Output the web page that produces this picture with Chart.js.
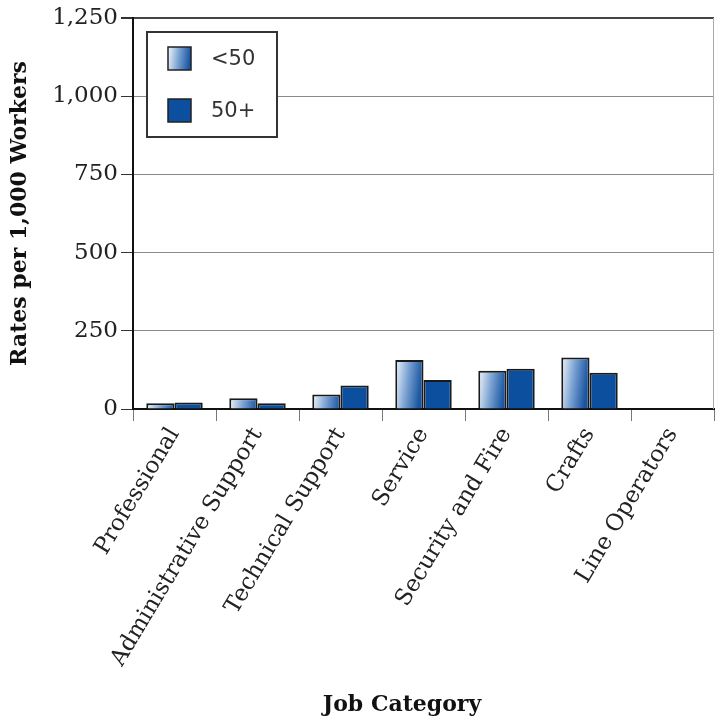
<!DOCTYPE html>
<html>
<head>
<meta charset="utf-8">
<script src="https://cdn.jsdelivr.net/npm/chart.js@4/dist/chart.umd.min.js"></script>
<style>
  body { margin: 0; background: #fff; }
  #wrap { width: 715px; height: 719px; }
</style>
</head>
<body>
<div id="wrap"><canvas id="rateChart" width="715" height="719"></canvas></div>
<script>
// ================= DATA =================
const categories = [
    "Professional",
    "Administrative Support",
    "Technical Support",
    "Service",
    "Security and Fire",
    "Crafts",
    "Line Operators"
];
const seriesNames = ["<50", "50+"];
const under50 = [18, 34, 46, 157, 122, 165, 0];
const over50 = [21, 18, 75, 93, 129, 116, 0];
const yTicks = [0, 250, 500, 750, 1000, 1250];
const xTitle = "Job Category";

const CAT_PCT = 0.68;
const SOLID_BLUE = "#0b4f9e";

// ================= GRADIENT =================
function makeGradient(c, left, top, width) {
    // mostly horizontal, slightly tilted: light top-left, dark right
    const g = c.createLinearGradient(left, top, left + width, top + width * 0.12);
    g.addColorStop(0, "#f3f7fc");
    g.addColorStop(0.5, "#7ca3d3");
    g.addColorStop(1, "#1a56a2");
    return g;
}

function under50Fill(context) {
    const chart = context.chart;
    if (context.type !== "data" || !chart.chartArea) return "#7ca3d3";
    const x = chart.scales.x;
    const y = chart.scales.y;
    const barW = x.width / categories.length * CAT_PCT / 2;
    const cx = x.getPixelForValue(context.dataIndex);
    const top = y.getPixelForValue(context.raw);
    return makeGradient(chart.ctx, cx - barW, top, barW);
}

// ================= PLUGINS =================
const framePlugin = {
    id: "frame",
    beforeDatasetsDraw(chart) {
        const { ctx, chartArea } = chart;
        ctx.save();
        ctx.strokeStyle = "#aaaaaa";
        ctx.lineWidth = 1;
        ctx.beginPath();
        ctx.moveTo(chartArea.right - 0.5, chartArea.top);
        ctx.lineTo(chartArea.right - 0.5, chartArea.bottom);
        ctx.stroke();
        ctx.restore();
    },
    afterDraw(chart) {
        // x axis title, sits a bit left of the plot centre like the original
        const { ctx } = chart;
        ctx.save();
        ctx.fillStyle = "#111111";
        ctx.font = "bold 22px 'DejaVu Serif'";
        ctx.textAlign = "center";
        ctx.textBaseline = "middle";
        ctx.fillText(xTitle, 402, 705);
        ctx.restore();
    }
};

const boxLegend = {
    id: "boxLegend",
    afterDraw(chart) {
        const { ctx, chartArea } = chart;
        const bx = chartArea.left + 14;
        const by = chartArea.top + 14;
        const bw = 130;
        const bh = 105;
        ctx.save();
        ctx.fillStyle = "#ffffff";
        ctx.fillRect(bx, by, bw, bh);
        ctx.strokeStyle = "#333333";
        ctx.lineWidth = 2;
        ctx.strokeRect(bx, by, bw, bh);

        chart.data.datasets.forEach((ds, i) => {
            const sx = bx + 21;
            const sy = by + 15 + i * 52;
            const s = 23;
            ctx.fillStyle = i === 0 ? makeGradient(ctx, sx, sy, s) : SOLID_BLUE;
            ctx.fillRect(sx, sy, s, s);
            ctx.strokeStyle = "#222222";
            ctx.lineWidth = 1.5;
            ctx.strokeRect(sx, sy, s, s);
            ctx.fillStyle = "#333333";
            ctx.font = "21px 'DejaVu Sans'";
            ctx.textBaseline = "middle";
            ctx.textAlign = "left";
            ctx.fillText(ds.label, bx + 64, sy + s / 2 + 1);
        });
        ctx.restore();
    }
};

// ================= CHART =================
const ctx = document.getElementById("rateChart");

const rateChart = new Chart(ctx, {
    type: "bar",
    data: {
        labels: categories,
        datasets: [
            {
                label: seriesNames[0],
                data: under50,
                backgroundColor: under50Fill,
                borderColor: "#1a1a1a",
                borderWidth: 2,
                borderSkipped: "bottom",
                categoryPercentage: CAT_PCT,
                barPercentage: 1
            },
            {
                label: seriesNames[1],
                data: over50,
                backgroundColor: SOLID_BLUE,
                borderColor: "#1a1a1a",
                borderWidth: 2,
                borderSkipped: "bottom",
                categoryPercentage: CAT_PCT,
                barPercentage: 1
            }
        ]
    },
    options: {
        responsive: false,
        animation: false,
        devicePixelRatio: 1,
        layout: { padding: { top: 18, right: 1, left: 0, bottom: 0 } },
        plugins: {
            legend: { display: false },
            tooltip: { enabled: false }
        },
        scales: {
            x: {
                afterFit(scale) { scale.height = 310; },
                grid: {
                    drawOnChartArea: false,
                    drawTicks: true,
                    tickLength: 12,
                    color: "#777777",
                    tickColor: "#777777"
                },
                border: { display: true, color: "#111111", width: 2 },
                ticks: {
                    autoSkip: false,
                    minRotation: 59,
                    maxRotation: 59,
                    padding: 2,
                    color: "#222222",
                    font: { family: "'DejaVu Serif'", size: 23 }
                },
                title: { display: false, text: xTitle }
            },
            y: {
                min: 0,
                max: 1250,
                afterFit(scale) { scale.width = 133; },
                afterBuildTicks(scale) {
                    scale.ticks = yTicks.map(v => ({ value: v }));
                },
                grid: {
                    color: c => (c.tick && c.tick.value === 1250 ? "#444444" : "#8a8a8a"),
                    lineWidth: c => (c.tick && c.tick.value === 1250 ? 2 : 1),
                    tickLength: 12,
                    tickColor: "#333333"
                },
                border: { display: true, color: "#111111", width: 2 },
                ticks: {
                    padding: 3,
                    color: "#222222",
                    font: { family: "'DejaVu Serif'", size: 23 },
                    callback: v => v.toLocaleString("en-US")
                },
                title: {
                    display: true,
                    text: "Rates per 1,000 Workers",
                    color: "#111111",
                    padding: { top: 7, bottom: 2 },
                    font: { family: "'DejaVu Serif'", size: 22, weight: "bold" }
                }
            }
        }
    },
    plugins: [framePlugin, boxLegend]
});
</script>
</body>
</html>
